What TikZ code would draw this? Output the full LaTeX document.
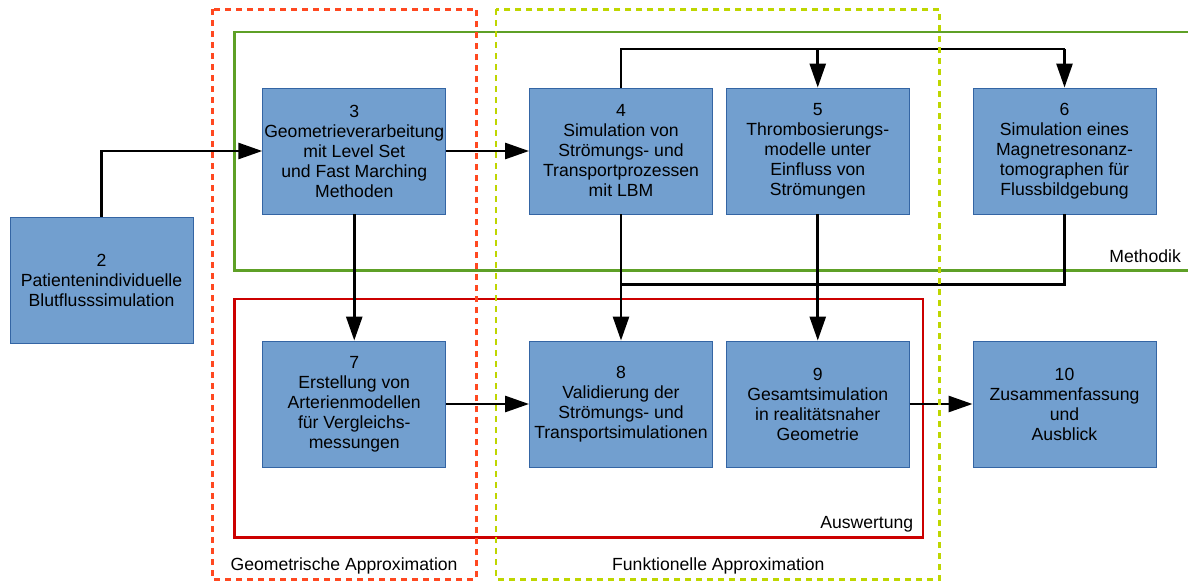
\documentclass[tikz,border=0pt]{standalone}
\usepackage{fontspec}
\setmainfont{Liberation Sans}
\usetikzlibrary{arrows.meta}

\definecolor{boxfill}{RGB}{114,159,207}
\definecolor{boxline}{RGB}{52,101,164}
\definecolor{methgreen}{RGB}{94,160,38}
\definecolor{evalred}{RGB}{204,0,0}
\definecolor{geoorange}{RGB}{255,72,32}
\definecolor{funclime}{RGB}{190,214,0}

\tikzset{
  stage/.style={rectangle, draw=boxline, line width=0.9pt, fill=boxfill,
    minimum width=183pt, minimum height=126pt, inner sep=0pt,
    align=center, font=\fontsize{17.6}{20}\selectfont},
  link/.style={draw=black, line width=2.7pt},
  arrowlink/.style={link, -{Triangle[length=24pt,width=16pt]}},
  solidframe/.style={line width=2.8pt},
  dashframe/.style={line width=2.8pt, dash pattern=on 6pt off 5pt},
  framelabel/.style={font=\fontsize{17.6}{20}\selectfont, inner sep=0pt}
}

\begin{document}
\begin{tikzpicture}[x=1pt,y=-1pt]
\useasboundingbox (0,0) rectangle (1188,581);

% solid frames: Methodik and Auswertung
\draw[solidframe, draw=methgreen] (1195,32) -- (234.6,32) -- (234.6,270.7) -- (1195,270.7);
\draw[solidframe, draw=evalred] (234.6,299) rectangle (923,537.3);

% stages
\node[stage] (n2)  at (101.5,280)  {2\\Patientenindividuelle\\Blutflusssimulation};
\node[stage] (n3)  at (354.25,151) {3\\Geometrieverarbeitung\\mit Level Set\\und Fast Marching\\Methoden};
\node[stage] (n4)  at (621,151)    {4\\Simulation von\\Strömungs- und\\Transportprozessen\\mit LBM};
\node[stage] (n5)  at (817.75,151) {5\\Thrombosierungs-\\modelle unter\\Einfluss von\\Strömungen};
\node[stage] (n6)  at (1064.5,151) {6\\Simulation eines\\Magnetresonanz-\\tomographen für\\Flussbildgebung};
\node[stage] (n7)  at (354.25,404) {7\\Erstellung von\\Arterienmodellen\\für Vergleichs-\\messungen};
\node[stage] (n8)  at (621,404)    {8\\Validierung der\\Strömungs- und\\Transportsimulationen};
\node[stage] (n9)  at (817.75,404) {9\\Gesamtsimulation\\in realitätsnaher\\Geometrie};
\node[stage] (n10) at (1064.5,404) {10\\Zusammenfassung\\und\\Ausblick};

% bus heights
\coordinate (topbus) at (0,49);
\coordinate (lowbus) at (0,284.7);

% connectors
\draw[arrowlink] (n2.north) |- (n3.west);
\draw[arrowlink] (n3.east) -- (n4.west);
\draw[arrowlink] (n3.south) -- (n7.north);
\draw[arrowlink] (n7.east) -- (n8.west);
\draw[arrowlink] (n9.east) -- (n10.west);
\draw[arrowlink] (n4.south) -- (n8.north);
\draw[arrowlink] (n5.south) -- (n9.north);
\draw[link] (n4.north) -- (n4.north |- topbus) -- (n6.north |- topbus);
\draw[arrowlink] (n5.north |- topbus) -- (n5.north);
\draw[arrowlink] (n6.north |- topbus) -- (n6.north);
\draw[link] (n6.south) -- (n6.south |- lowbus) -- (n4.south |- lowbus);

% dashed frames
\draw[dashframe, draw=geoorange] (212.4,9.3) rectangle (476.5,579.3);
\draw[dashframe, draw=funclime] (496,9.3) rectangle (939.7,579.3);

% frame labels
\node[framelabel, anchor=base east] (lmeth) at (1181,262) {Methodik};
\node[framelabel, anchor=base east] (leval) at (913.4,528.6) {Auswertung};
\node[framelabel, anchor=base west] (lgeo)  at (230.4,570.3) {Geometrische Approximation};
\node[framelabel, anchor=base west] (lfunc) at (612,570.3) {Funktionelle Approximation};
\end{tikzpicture}
\end{document}
